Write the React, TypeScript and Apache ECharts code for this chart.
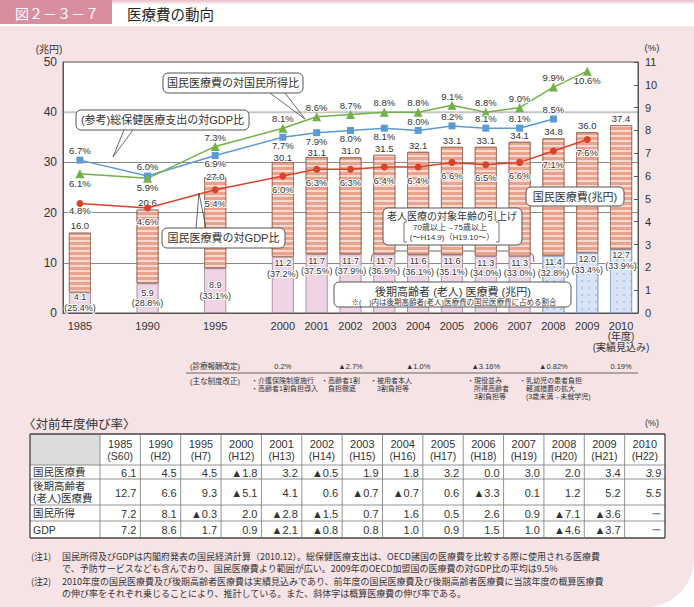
import React, { useEffect, useRef } from 'react';
import * as echarts from 'echarts';

const FONT = '"Liberation Sans", "Noto Sans CJK JP", sans-serif';
const JFONT = '"Noto Sans CJK JP", sans-serif';

// ---------- chart data ----------
const years = ['1985', '1990', '1995', '2000', '2001', '2002', '2003', '2004', '2005', '2006', '2007', '2008', '2009', '2010'];
const xSlots = ['1985', '_a', '1990', '_b', '1995', '_c', '2000', '2001', '2002', '2003', '2004', '2005', '2006', '2007', '2008', '2009', '2010'];
const totalCost = [16.0, 20.6, 27.0, 30.1, 31.1, 31.0, 31.5, 32.1, 33.1, 33.1, 34.1, 34.8, 36.0, 37.4];
const elderlyCost = [4.1, 5.9, 8.9, 11.2, 11.7, 11.7, 11.7, 11.6, 11.6, 11.3, 11.3, 11.4, 12.0, 12.7];
const elderlyShare = [25.4, 28.8, 33.1, 37.2, 37.5, 37.9, 36.9, 36.1, 35.1, 34.0, 33.0, 32.8, 33.4, 33.9];
const costToGdp = [4.8, 4.6, 5.4, 6.0, 6.3, 6.3, 6.4, 6.4, 6.6, 6.5, 6.6, 7.1, 7.6, null];
const healthSpendToGdp = [6.7, 6.0, 6.9, 7.7, 7.9, 8.0, 8.1, 8.0, 8.2, 8.1, 8.1, 8.5, null, null];
const costToIncome = [6.1, 5.9, 7.3, 8.1, 8.6, 8.7, 8.8, 8.8, 9.1, 8.8, 9.0, 9.9, 10.6, null];

// label placement (style)
const healthLabelPos = ['top', 'top', 'bottom', 'bottom', 'bottom', 'bottom', 'bottom', 'top', 'top', 'top', 'top', 'top', 'top', 'top'];
const incomeLabelPos = ['bottom', 'bottom', 'top', 'top', 'top', 'top', 'top', 'top', 'top', 'top', 'top', 'top', 'bottom', 'top'];
const gdpLabelDist = [-1, 5, 5, 5, 5, 5, 5, 5, 5, 5, 5, 5, 5, 5];
const totalLabelShift = [0, 0, 6, 2, 2, 0, 0, 0, 0, 0, 0, 0, 0, 0];

// fee revisions
const feeRevYears = ['2000', '2002', '2004', '2006', '2008', '2010'];
const feeRevValues = ['0.2%', '▲2.7%', '▲1.0%', '▲3.16%', '▲0.82%', '0.19%'];
const reformTexts = [
  '・介護保険制度施行\n・高齢者1割負担導入',
  '・高齢者1割\n　負担徹底',
  '・被用者本人\n　3割負担等',
  '・現役並み\n　所得高齢者\n　3割負担等',
  '・乳幼児の患者負担\n　軽減措置の拡大\n　(3歳未満→未就学児)',
];
const reformX = [251, 321, 370, 467, 519];

// table data
const tableEras = ['(S60)', '(H2)', '(H7)', '(H12)', '(H13)', '(H14)', '(H15)', '(H16)', '(H17)', '(H18)', '(H19)', '(H20)', '(H21)', '(H22)'];
const rowLabels = ['国民医療費', '後期高齢者\n(老人)医療費', '国民所得', 'GDP'];
const growthNational = ['6.1', '4.5', '4.5', '▲1.8', '3.2', '▲0.5', '1.9', '1.8', '3.2', '0.0', '3.0', '2.0', '3.4', '3.9'];
const growthElderly = ['12.7', '6.6', '9.3', '▲5.1', '4.1', '0.6', '▲0.7', '▲0.7', '0.6', '▲3.3', '0.1', '1.2', '5.2', '5.5'];
const growthIncome = ['7.2', '8.1', '▲0.3', '2.0', '▲2.8', '▲1.5', '0.7', '1.6', '0.5', '2.6', '0.9', '▲7.1', '▲3.6', '－'];
const growthGdp = ['7.2', '8.6', '1.7', '0.9', '▲2.1', '▲0.8', '0.8', '1.0', '0.9', '1.5', '1.0', '▲4.6', '▲3.7', '－'];

const notes = [
  { x: 31, y: 556, t: '(注1)' },
  { x: 62, y: 556, t: '国民所得及びGDPは内閣府発表の国民経済計算（2010.12）。総保健医療支出は、OECD諸国の医療費を比較する際に使用される医療費' },
  { x: 62, y: 568.5, t: 'で、予防サービスなども含んでおり、国民医療費より範囲が広い。2009年のOECD加盟国の医療費の対GDP比の平均は9.5%' },
  { x: 31, y: 581, t: '(注2)' },
  { x: 62, y: 581, t: '2010年度の国民医療費及び後期高齢者医療費は実績見込みであり、前年度の国民医療費及び後期高齢者医療費に当該年度の概算医療費' },
  { x: 62, y: 593.5, t: 'の伸び率をそれぞれ乗じることにより、推計している。また、斜体字は概算医療費の伸び率である。' },
];

export default function App() {
  const ref = useRef<HTMLDivElement>(null);
  useEffect(() => {
    const el = ref.current;
    if (!el) return;
    const chart = echarts.init(el, null, { renderer: 'svg' });

    const idxOf = (s: string) => years.indexOf(s);
    const lineLabel = {
      show: true, fontSize: 9.5, color: '#333', fontFamily: FONT,
      textBorderColor: '#fff', textBorderWidth: 2, distance: 1,
      formatter: (p: any) => Number(p.value).toFixed(1) + '%',
    };
    const lineData = (arr: (number | null)[], pos?: string[], dist?: number[]) =>
      xSlots.map((s) => {
        const i = idxOf(s);
        if (i < 0 || arr[i] == null) return '-';
        const label: any = {};
        if (pos) label.position = pos[i];
        if (dist) label.distance = dist[i];
        else if (pos) label.distance = pos[i] === 'bottom' ? 0 : 1;
        return { value: arr[i], label };
      });

    const salmonDecal = {
      symbol: 'rect', symbolSize: 1, color: 'rgba(255,255,255,0.6)',
      dashArrayX: [1, 0], dashArrayY: [2, 3], rotation: 0,
    };
    const dotDecal = {
      symbol: 'circle', symbolSize: 0.8, color: '#a3b8dc',
      dashArrayX: [2, 5], dashArrayY: [2, 5], rotation: 0,
    };

    const option: any = {
      animation: false,
      textStyle: { fontFamily: FONT },
      grid: { left: 63, top: 62, width: 575, height: 251, show: true, borderColor: '#555', borderWidth: 1, backgroundColor: 'transparent' },
      xAxis: {
        type: 'category', data: xSlots,
        axisLine: { lineStyle: { color: '#555' } },
        axisTick: { show: false },
        axisLabel: {
          interval: 0, fontSize: 11, color: '#333', margin: 7, lineHeight: 11, fontFamily: FONT,
          formatter: (v: string) => (v.startsWith('_') ? '' : v === '2010' ? '2010\n{s|(年度)}\n{s|(実績見込み)}' : v),
          rich: { s: { fontSize: 10, lineHeight: 11, color: '#333', fontFamily: FONT } },
        },
      },
      yAxis: [
        {
          type: 'value', min: 0, max: 50, interval: 10,
          axisLine: { show: true, lineStyle: { color: '#555' } },
          axisTick: { show: false },
          axisLabel: { fontSize: 12, color: '#333', margin: 6 },
          splitLine: { lineStyle: { color: ['#888', '#888', '#888', '#888', 'transparent', 'transparent'], width: 1 } },
        },
        {
          type: 'value', min: 0, max: 11, interval: 1, position: 'right',
          axisLine: { show: true, lineStyle: { color: '#555' } },
          axisTick: { show: true, inside: true, length: 4, lineStyle: { color: '#555' } },
          axisLabel: { fontSize: 11, color: '#333', margin: 7 },
          splitLine: { show: false },
        },
      ],
      series: [
        {
          type: 'bar', name: '後期高齢者（老人）医療費', stack: 'cost', barWidth: 22,
          data: xSlots.map((s) => {
            const i = idxOf(s);
            if (i < 0) return '-';
            const blue = Number(s) >= 2008;
            return {
              value: elderlyCost[i], share: elderlyShare[i],
              itemStyle: blue
                ? { color: '#d8e4f5', borderColor: '#8c9fbf', borderWidth: 0.8, decal: dotDecal }
                : { color: '#eed4e4', borderColor: '#9b8290', borderWidth: 0.8 },
              label: { position: Number(s) < 2000 ? 'inside' : 'insideTop', distance: 1 },
            };
          }),
          label: {
            show: true, fontSize: 9, lineHeight: 10.5, color: '#333', fontFamily: FONT,
            textBorderColor: '#fff', textBorderWidth: 2,
            formatter: (p: any) => `${Number(p.value).toFixed(1)}\n(${p.data.share.toFixed(1)}%)`,
          },
        },
        {
          type: 'bar', name: '国民医療費', stack: 'cost', barWidth: 22,
          data: xSlots.map((s) => {
            const i = idxOf(s);
            if (i < 0) return '-';
            return {
              value: Math.round((totalCost[i] - elderlyCost[i]) * 10) / 10, total: totalCost[i],
              label: { offset: [0, totalLabelShift[i]] },
            };
          }),
          itemStyle: { color: '#e9a38c', borderColor: '#9c6d5e', borderWidth: 0.8, decal: salmonDecal },
          label: {
            show: true, position: 'top', distance: 2, fontSize: 9.5, color: '#333', fontFamily: FONT,
            textBorderColor: '#fff', textBorderWidth: 2,
            formatter: (p: any) => p.data.total.toFixed(1),
          },
        },
        {
          type: 'line', name: '国民医療費の対GDP比', yAxisIndex: 1, connectNulls: true,
          data: lineData(costToGdp, undefined, gdpLabelDist),
          symbol: 'circle', symbolSize: 7,
          itemStyle: { color: '#d8432a' }, lineStyle: { color: '#d8432a', width: 1.5 },
          label: { ...lineLabel, position: 'bottom', distance: 5 },
        },
        {
          type: 'line', name: '総保健医療支出の対GDP比', yAxisIndex: 1, connectNulls: true,
          data: lineData(healthSpendToGdp, healthLabelPos),
          symbol: 'rect', symbolSize: 7,
          itemStyle: { color: '#5b9bd5' }, lineStyle: { color: '#5b9bd5', width: 1.5 },
          label: { ...lineLabel, distance: 1 },
        },
        {
          type: 'line', name: '国民医療費の対国民所得比', yAxisIndex: 1, connectNulls: true,
          data: lineData(costToIncome, incomeLabelPos, incomeLabelPos.map(() => 0)),
          symbol: 'triangle', symbolSize: 9,
          itemStyle: { color: '#72b148' }, lineStyle: { color: '#72b148', width: 1.5 },
          label: { ...lineLabel, distance: 0 },
        },
      ],
    };
    chart.setOption(option);

    const px = (y: string) => chart.convertToPixel({ xAxisIndex: 0 }, y) as number;
    const py = (v: number) => chart.convertToPixel({ yAxisIndex: 0 }, v) as number;
    const g: any[] = [];
    const text = (x: number, y: number, t: string, size: number, extra: any = {}, z = 20) =>
      g.push({
        type: 'text', x, y, z, silent: true,
        style: { text: t, fontSize: size, fontFamily: FONT, fill: '#333', align: 'left', verticalAlign: 'middle', ...extra },
      });
    const rect = (x: number, y: number, w: number, h: number, style: any, z = 10, r: any = 0) =>
      g.push({ type: 'rect', z, silent: true, shape: { x, y, width: w, height: h, r }, style });
    const line = (x1: number, y1: number, x2: number, y2: number, style: any, z = 12) =>
      g.push({ type: 'line', z, silent: true, shape: { x1, y1, x2, y2 }, style: { lineWidth: 1, stroke: '#555', ...style } });
    const poly = (points: number[][], style: any, z = 12) =>
      g.push({ type: 'polyline', z, silent: true, shape: { points }, style: { fill: 'none', stroke: '#444', lineWidth: 0.8, ...style } });

    // backgrounds
    rect(0, 26, 694, 581, { fill: '#f6e3e6' }, -10, [0, 0, 48, 0]);
    rect(112, 0, 582, 5, {
      fill: new echarts.graphic.LinearGradient(0, 0, 0, 1, [
        { offset: 0, color: '#ecbcc6' }, { offset: 1, color: '#ffffff' },
      ]),
    }, -10);
    rect(0, 0, 112, 24, { fill: '#d98e9d' }, -9);
    text(15, 12.5, '図２－３－７', 14, { fill: '#fff', fontFamily: JFONT });
    text(127, 13, '医療費の動向', 14.5, { fill: '#222', fontFamily: JFONT });
    rect(63, 62, 575, 251, { fill: '#ffffff' }, -5);
    // light gridline at 40
    const y40 = py(40);
    line(63, y40, 638, y40, { stroke: '#c6c6c6', lineWidth: 2 }, -4);

    // axis titles
    text(49, 49, '(兆円)', 10, { align: 'center' });
    text(652, 47, '(%)', 9.5, { align: 'center' });

    // callouts
    const box = (x: number, y: number, w: number, h: number) =>
      rect(x, y, w, h, { fill: '#fff', stroke: '#555', lineWidth: 1 }, 14, 5);
    box(163, 73, 140, 20);
    text(233, 83, '国民医療費の対国民所得比', 11, { align: 'center' }, 15);
    poly([[270, 93], [305, 119], [285, 93]], {}, 13);

    box(76, 110, 173, 20);
    text(162.5, 120, '(参考)総保健医療支出の対GDP比', 11, { align: 'center' }, 15);
    poly([[124, 130], [113, 157], [133, 130]], {}, 13);

    box(162, 228, 123, 20);
    text(223.5, 238, '国民医療費の対GDP比', 11, { align: 'center' }, 15);
    poly([[196, 228], [199, 193], [206, 228]], {}, 13);

    box(526, 187, 98, 19);
    text(575, 196.5, '国民医療費(兆円)', 11, { align: 'center' }, 15);

    box(383, 208, 139, 37);
    text(452, 216.5, '老人医療の対象年齢の引上げ', 10, { align: 'center' }, 15);
    text(450, 227.5, '70歳以上→75歳以上', 8, { align: 'center' }, 15);
    text(452, 237.5, '(～H14.9)（H19.10～）', 8, { align: 'center' }, 15);
    poly([[407, 222], [404, 222], [404, 242], [407, 242]], { stroke: '#555' }, 15);
    poly([[496, 222], [499, 222], [499, 242], [496, 242]], { stroke: '#555' }, 15);
    // brace
    poly([[371, 262], [372, 255], [377, 251], [445, 251], [450, 245.5], [455, 251], [528, 251], [533, 255], [534, 262]], { stroke: '#444' }, 1);

    box(334, 282, 237, 25);
    text(453, 291.5, '後期高齢者 (老人) 医療費 (兆円)', 11, { align: 'center' }, 15);
    text(454, 302, '※(　)内は後期高齢者(老人)医療費の国民医療費に占める割合', 7.5, { align: 'center' }, 15);

    // fee revisions and reforms
    text(190, 366, '(診療報酬改定)', 7.5);
    feeRevYears.forEach((y, k) => text(px(y), 366, feeRevValues[k], 7.5, { align: 'center' }));
    line(186, 373, 638, 373, { stroke: '#666', lineWidth: 1 });
    text(190, 381, '(主な制度改正)', 7.5);
    reformTexts.forEach((t, k) => text(reformX[k], 377, t, 7, { verticalAlign: 'top', lineHeight: 7.8 }));

    // table
    text(23, 423, '〈対前年度伸び率〉', 12.5, { fontFamily: JFONT });
    text(652, 423, '(%)', 9, { align: 'center' });
    const tL = 30, tC = 100, tR = 665;
    const colW = (tR - tC) / years.length;
    const rowsY = [434, 465, 479, 505, 521, 538];
    rect(tL, rowsY[0], tR - tL, rowsY[5] - rowsY[0], { fill: '#fff' }, 5);
    rect(tL, rowsY[0], tC - tL, rowsY[1] - rowsY[0], { fill: '#dcdcdc' }, 6);
    rowsY.forEach((y, k) => line(tL, y, tR, y, { stroke: k === 0 || k === 5 ? '#444' : '#777', lineWidth: k === 0 || k === 5 ? 1.3 : 0.8 }, 7));
    line(tL, rowsY[0], tL, rowsY[5], { stroke: '#444', lineWidth: 1.3 }, 7);
    for (let j = 0; j <= years.length; j++) {
      const x = tC + j * colW;
      line(x, rowsY[0], x, rowsY[5], { stroke: j === years.length ? '#444' : '#777', lineWidth: j === years.length ? 1.3 : 0.8 }, 7);
    }
    years.forEach((y, j) => {
      const cx = tC + (j + 0.5) * colW;
      text(cx, 443.5, y, 11, { align: 'center' });
      text(cx, 455.5, tableEras[j], 10.5, { align: 'center' });
    });
    const rowsData = [growthNational, growthElderly, growthIncome, growthGdp];
    rowsData.forEach((row, r) => {
      const cy = (rowsY[r + 1] + rowsY[r + 2]) / 2;
      const lbl = rowLabels[r];
      if (lbl.includes('\n')) {
        const parts = lbl.split('\n');
        text(33, cy - 6, parts[0], 10.5);
        text(33, cy + 6, parts[1], 10.5);
      } else {
        text(33, cy, lbl, 10.5);
      }
      row.forEach((v, j) => {
        const right = tC + (j + 1) * colW - 4;
        text(right, cy + 0.5, v, 11, { align: 'right', fontStyle: j === years.length - 1 ? 'italic' : 'normal' });
      });
    });

    // notes
    notes.forEach((n) => text(n.x, n.y, n.t, 9, { fontFamily: JFONT, fill: '#333' }));

    chart.setOption({ graphic: { elements: g } });

    return () => chart.dispose();
  }, []);

  return <div ref={ref} style={{ position: 'absolute', left: 0, top: 0, width: 694, height: 607 }} />;
}
